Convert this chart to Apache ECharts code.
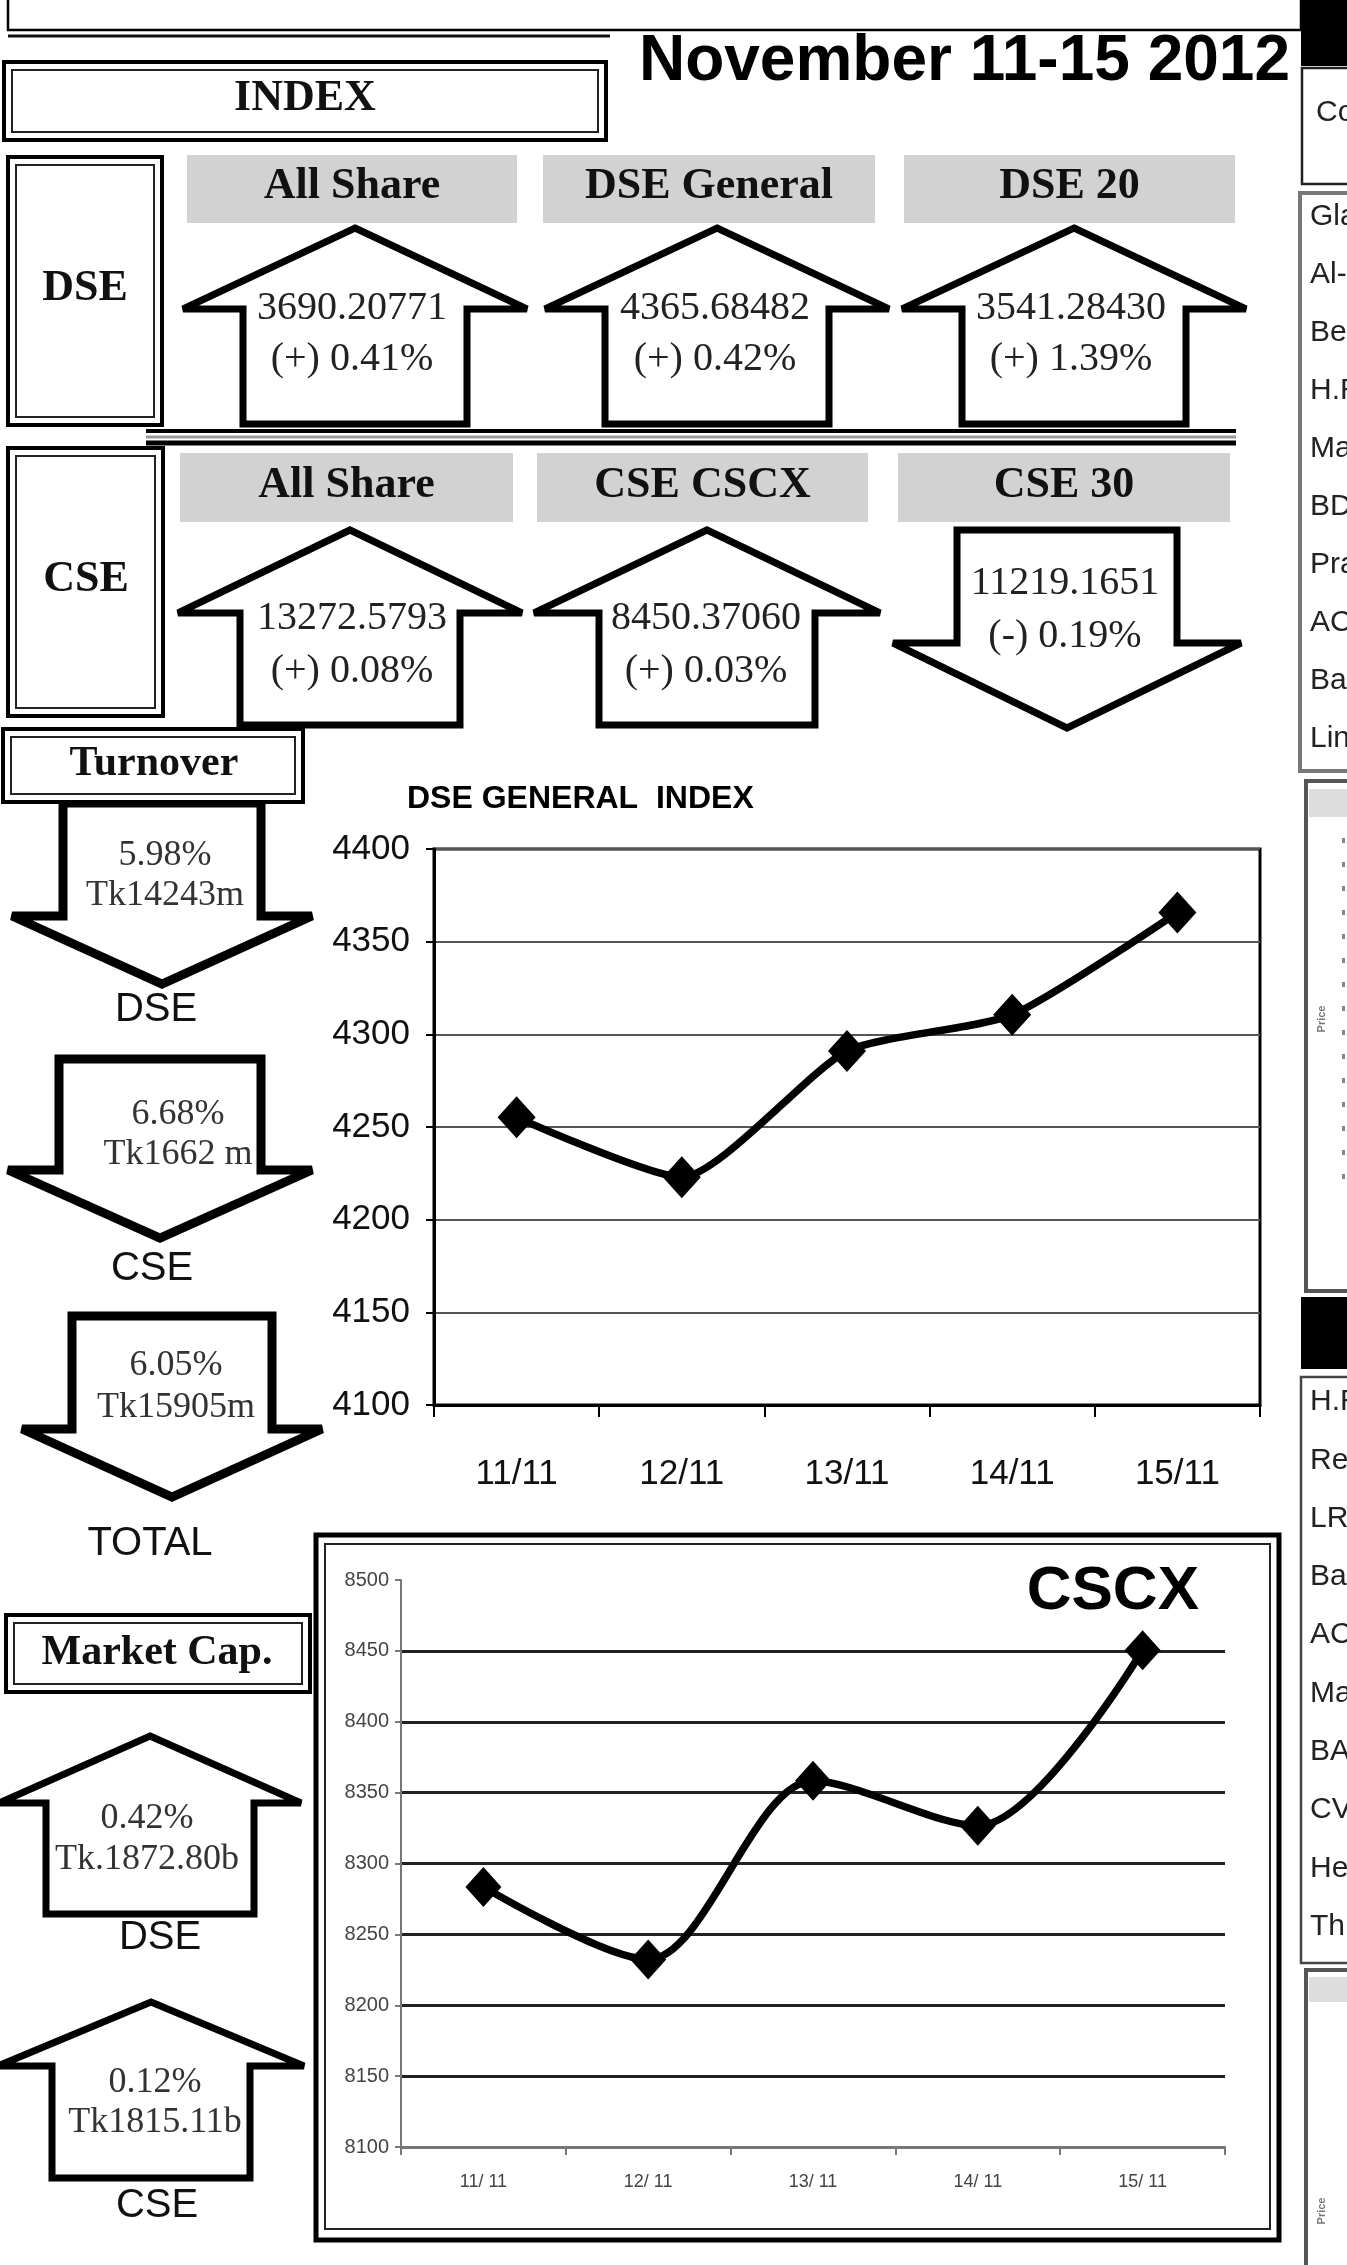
<!DOCTYPE html>
<html>
<head>
<meta charset="utf-8">
<title>November 11-15 2012</title>
<script src="https://cdn.jsdelivr.net/npm/echarts@6/dist/echarts.min.js"></script>
<style>
  html, body { margin: 0; padding: 0; background: #fff; }
  #chart { width: 1347px; height: 2265px; }
</style>
</head>
<body>
<div id="chart"></div>
<script>
// chart data
const categories = ['11/11', '12/11', '13/11', '14/11', '15/11'];
const cscxCategories = ['11/ 11', '12/ 11', '13/ 11', '14/ 11', '15/ 11'];
const dseGeneral = [4255.2, 4222.9, 4291.0, 4310.5, 4365.7];
const cscxValues = [8283.5, 8232.3, 8358.4, 8326.6, 8450.4];
const dseAxis = [4100, 4400, 50];
const cscxAxis = [8100, 8500, 50];

// index panel figures
const dseIndexNames = ['All Share', 'DSE General', 'DSE 20'];
const dseIndexValues = ['3690.20771', '4365.68482', '3541.28430'];
const dseIndexChanges = ['(+) 0.41%', '(+) 0.42%', '(+) 1.39%'];
const cseIndexNames = ['All Share', 'CSE CSCX', 'CSE 30'];
const cseIndexValues = ['13272.5793', '8450.37060', '11219.1651'];
const cseIndexChanges = ['(+) 0.08%', '(+) 0.03%', '(-) 0.19%'];
const turnoverLabels = ['DSE', 'CSE', 'TOTAL'];
const turnoverChanges = ['5.98%', '6.68%', '6.05%'];
const turnoverValues = ['Tk14243m', 'Tk1662 m', 'Tk15905m'];
const marketCapLabels = ['DSE', 'CSE'];
const marketCapChanges = ['0.42%', '0.12%'];
const marketCapValues = ['Tk.1872.80b', 'Tk1815.11b'];
const sideNames1 = ['Gla', 'Al-', 'Be', 'H.R', 'Ma', 'BD', 'Pra', 'AC', 'Ba', 'Lin'];
const sideNames2 = ['H.R', 'Re', 'LR', 'Ba', 'AC', 'Ma', 'BA', 'CV', 'He', 'Th'];

const SERIF = "'Liberation Serif', 'Times New Roman', serif";
const SANS = "'Liberation Sans', Arial, sans-serif";

const shapes = [];

function rect(x, y, w, h, style) {
    shapes.push({ type: 'rect', silent: true, shape: { x, y, width: w, height: h }, style });
}
function line(x1, y1, x2, y2, color, width) {
    shapes.push({ type: 'line', silent: true, shape: { x1, y1, x2, y2 }, style: { stroke: color, lineWidth: width } });
}
function text(str, x, y, font, color, align) {
    shapes.push({
        type: 'text', silent: true,
        style: { text: str, x, y, font, fill: color || '#222', align: align || 'center', verticalAlign: 'middle' }
    });
}
function frameBox(x, y, w, h) {
    rect(x, y, w, h, { fill: '#fff', stroke: '#000', lineWidth: 4 });
    rect(x + 8, y + 8, w - 16, h - 16, { fill: 'none', stroke: '#222', lineWidth: 2 });
}
function poly(points, lw) {
    shapes.push({
        type: 'polygon', silent: true, shape: { points },
        style: { fill: '#fff', stroke: '#000', lineWidth: lw, lineJoin: 'miter', miterLimit: 3 }
    });
}
function upArrow(cx, tip, shoulder, bottom, head, shaft, lw) {
    poly([[cx, tip], [cx + head, shoulder], [cx + shaft, shoulder], [cx + shaft, bottom],
        [cx - shaft, bottom], [cx - shaft, shoulder], [cx - head, shoulder]], lw);
}
function downArrow(cx, top, shoulder, tip, head, shaft, lw) {
    poly([[cx - shaft, top], [cx + shaft, top], [cx + shaft, shoulder], [cx + head, shoulder],
        [cx, tip], [cx - head, shoulder], [cx - shaft, shoulder]], lw);
}

// top strip
rect(8, -10, 1293, 40, { fill: '#fff', stroke: '#000', lineWidth: 2.5 });
line(8, 36, 610, 36, '#111', 3);
rect(1301, 0, 46, 66, { fill: '#000' });
text('November 11-15 2012', 1290, 62, 'bold 64px ' + SANS, '#000', 'right');

// index title
frameBox(4, 62, 602, 78);
text('INDEX', 305, 99, 'bold 44px ' + SERIF, '#111');

// DSE row
frameBox(8, 157, 154, 268);
text('DSE', 85, 289, 'bold 44px ' + SERIF, '#111');
const dseHeads = [[187, 330], [543, 332], [904, 331]];
const dseCx = [355, 717, 1074];
const dseTextX = [352, 715, 1071];
dseIndexNames.forEach((n, i) => {
    rect(dseHeads[i][0], 155, dseHeads[i][1], 68, { fill: '#d2d2d2' });
    text(n, dseHeads[i][0] + dseHeads[i][1] / 2, 187, 'bold 44px ' + SERIF, '#111');
    upArrow(dseCx[i], 228, 309, 424, 172, 112, 7);
    text(dseIndexValues[i], dseTextX[i], 308, '40px ' + SERIF, '#222');
    text(dseIndexChanges[i], dseTextX[i], 359, '40px ' + SERIF, '#222');
});
line(146, 431, 1236, 431, '#000', 4);
line(146, 437, 1236, 437, '#999', 3);
line(146, 443, 1236, 443, '#000', 5);

// CSE row
frameBox(8, 448, 155, 268);
text('CSE', 86, 580, 'bold 44px ' + SERIF, '#111');
const cseHeads = [[180, 333], [537, 331], [898, 332]];
cseIndexNames.forEach((n, i) => {
    rect(cseHeads[i][0], 453, cseHeads[i][1], 69, { fill: '#d2d2d2' });
    text(n, cseHeads[i][0] + cseHeads[i][1] / 2, 486, 'bold 44px ' + SERIF, '#111');
});
upArrow(350, 530, 613, 725, 172, 110, 7);
upArrow(707, 530, 613, 725, 173, 108, 7);
downArrow(1067, 530, 643, 728, 174, 110, 7);
text(cseIndexValues[0], 352, 618, '40px ' + SERIF, '#222');
text(cseIndexChanges[0], 352, 671, '40px ' + SERIF, '#222');
text(cseIndexValues[1], 706, 618, '40px ' + SERIF, '#222');
text(cseIndexChanges[1], 706, 671, '40px ' + SERIF, '#222');
text(cseIndexValues[2], 1065, 583, '40px ' + SERIF, '#222');
text(cseIndexChanges[2], 1065, 636, '40px ' + SERIF, '#222');

// turnover
const tArrows = [[162, 803, 916, 984, 150, 99], [160, 1059, 1170, 1238, 152, 101], [172, 1316, 1429, 1497, 150, 100]];
tArrows.forEach(a => downArrow(a[0], a[1], a[2], a[3], a[4], a[5], 9));
frameBox(3, 729, 300, 73);
text('Turnover', 154, 764, 'bold 42px ' + SERIF, '#111');
const tText = [[165, 856, 896], [178, 1115, 1155], [176, 1366, 1408]];
const tLabel = [[156, 1010], [152, 1269], [150, 1544]];
turnoverLabels.forEach((l, i) => {
    text(turnoverChanges[i], tText[i][0], tText[i][1], '36px ' + SERIF, '#333');
    text(turnoverValues[i], tText[i][0], tText[i][2], '36px ' + SERIF, '#333');
    text(l, tLabel[i][0], tLabel[i][1], '40px ' + SANS, '#111');
});

// market capitalisation
frameBox(6, 1615, 304, 77);
text('Market Cap.', 157, 1653, 'bold 42px ' + SERIF, '#111');
upArrow(150, 1736, 1803, 1914, 151, 104, 7);
upArrow(151, 2002, 2066, 2178, 153, 99, 7);
const mText = [[147, 1819, 1860, 160, 1938], [155, 2083, 2123, 157, 2206]];
marketCapLabels.forEach((l, i) => {
    text(marketCapChanges[i], mText[i][0], mText[i][1], '36px ' + SERIF, '#333');
    text(marketCapValues[i], mText[i][0], mText[i][2], '36px ' + SERIF, '#333');
    text(l, mText[i][3], mText[i][4], '40px ' + SANS, '#111');
});

// chart headings and CSCX frame
text('DSE GENERAL  INDEX', 407, 799, 'bold 32px ' + SANS, '#000', 'left');
rect(316, 1535, 963, 705, { fill: 'none', stroke: '#000', lineWidth: 5 });
rect(325, 1544, 945, 685, { fill: 'none', stroke: '#222', lineWidth: 2 });
text('CSCX', 1199, 1592, 'bold 62px ' + SANS, '#000', 'right');

// cut-off right column
rect(1302, 68, 60, 116, { fill: '#fff', stroke: '#222', lineWidth: 2.5 });
text('Co', 1316, 113, '30px ' + SANS, '#222', 'left');
rect(1300, 193, 60, 578, { fill: '#fff', stroke: '#777', lineWidth: 4 });
sideNames1.forEach((n, i) => text(n, 1310, 217 + i * 58, '30px ' + SANS, '#222', 'left'));
rect(1306, 781, 60, 510, { fill: '#fff', stroke: '#555', lineWidth: 4 });
rect(1309, 789, 50, 28, { fill: '#ddd' });
shapes.push({ type: 'text', silent: true, x: 1322, y: 1019, rotation: Math.PI / 2,
    style: { text: 'Price', x: 0, y: 0, font: 'bold 11px ' + SANS, fill: '#777', align: 'center', verticalAlign: 'middle' } });
for (let i = 0; i < 15; i++) rect(1342, 838 + i * 24, 3, 5, { fill: '#888' });
rect(1301, 1297, 46, 72, { fill: '#000' });
rect(1301, 1377, 60, 586, { fill: '#fff', stroke: '#444', lineWidth: 2.5 });
sideNames2.forEach((n, i) => text(n, 1310, 1402 + i * 58.3, '30px ' + SANS, '#222', 'left'));
rect(1306, 1970, 60, 320, { fill: '#fff', stroke: '#555', lineWidth: 4 });
rect(1309, 1977, 50, 25, { fill: '#ddd' });
shapes.push({ type: 'text', silent: true, x: 1322, y: 2211, rotation: Math.PI / 2,
    style: { text: 'Price', x: 0, y: 0, font: 'bold 11px ' + SANS, fill: '#777', align: 'center', verticalAlign: 'middle' } });

const cscxSplit = ['#777', '#222', '#222', '#222', '#222', '#222', '#222', '#222', 'rgba(0,0,0,0)'];
const plain = v => String(v);

const options = {
    animation: false,
    backgroundColor: '#fff',
    graphic: { elements: shapes },
    grid: [
        { left: 434, top: 849, width: 826, height: 556, show: true, borderColor: '#000', borderWidth: 3, backgroundColor: 'rgba(0,0,0,0)' },
        { left: 401, top: 1580, width: 824, height: 567 }
    ],
    xAxis: [
        {
            gridIndex: 0, type: 'category', data: categories, boundaryGap: true,
            axisLine: { lineStyle: { color: '#000', width: 3 } },
            axisTick: { show: true, length: 12, lineStyle: { color: '#000', width: 2 } },
            axisLabel: { fontSize: 35, fontFamily: SANS, color: '#111', margin: 52 }
        },
        {
            gridIndex: 1, type: 'category', data: cscxCategories, boundaryGap: true,
            axisLine: { lineStyle: { color: '#777', width: 2 } },
            axisTick: { show: true, length: 8, lineStyle: { color: '#777', width: 2 } },
            axisLabel: { fontSize: 18, fontFamily: SANS, color: '#444', margin: 26 }
        }
    ],
    yAxis: [
        {
            gridIndex: 0, type: 'value', min: dseAxis[0], max: dseAxis[1], interval: dseAxis[2],
            axisLine: { show: true, lineStyle: { color: '#000', width: 3 } },
            axisTick: { show: true, length: 8, lineStyle: { color: '#000', width: 2 } },
            axisLabel: { fontSize: 35, fontFamily: SANS, color: '#111', margin: 24, formatter: plain },
            splitLine: { lineStyle: { color: '#555', width: 2 } }
        },
        {
            gridIndex: 1, type: 'value', min: cscxAxis[0], max: cscxAxis[1], interval: cscxAxis[2],
            axisLine: { show: true, lineStyle: { color: '#777', width: 2 } },
            axisTick: { show: true, length: 6, lineStyle: { color: '#777', width: 2 } },
            axisLabel: { fontSize: 20, fontFamily: SANS, color: '#444', margin: 12, formatter: plain },
            splitLine: { lineStyle: { color: cscxSplit, width: 3 } }
        }
    ],
    series: [
        {
            name: 'DSE General', type: 'line', xAxisIndex: 0, yAxisIndex: 0,
            data: dseGeneral, smooth: 0.2,
            symbol: 'diamond', symbolSize: [38, 42],
            lineStyle: { color: '#000', width: 7.5 },
            itemStyle: { color: '#000' }
        },
        {
            name: 'CSCX', type: 'line', xAxisIndex: 1, yAxisIndex: 1,
            data: cscxValues, smooth: 0.3,
            symbol: 'diamond', symbolSize: [36, 40],
            lineStyle: { color: '#000', width: 7.5 },
            itemStyle: { color: '#000' }
        }
    ]
};

const chart = echarts.init(document.getElementById('chart'), null, { renderer: 'canvas' });
chart.setOption(options);
window.addEventListener('resize', () => chart.resize());
</script>
</body>
</html>
